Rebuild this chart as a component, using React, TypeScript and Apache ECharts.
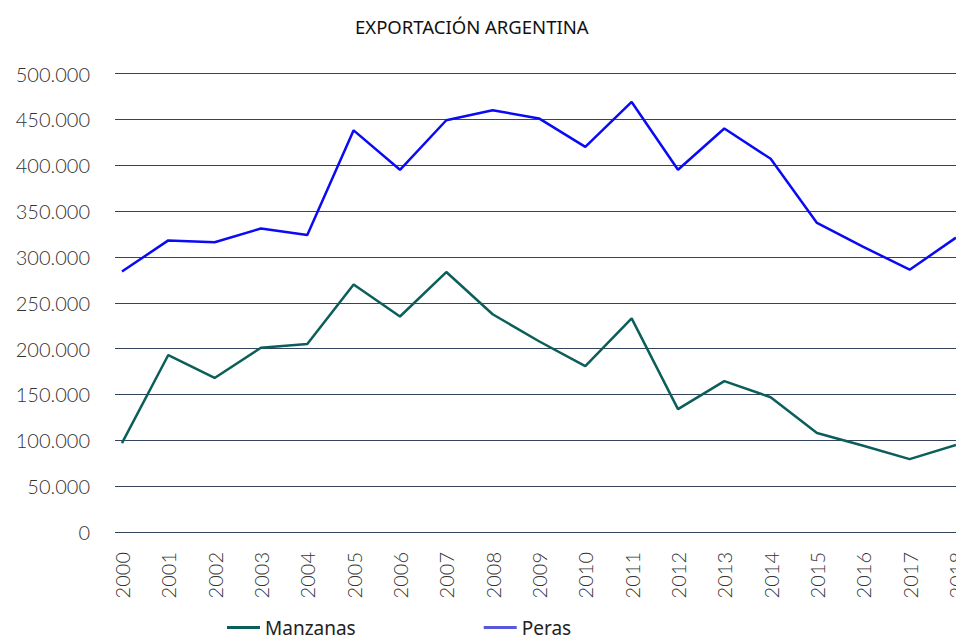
import React, { useEffect, useRef } from "react";
import * as echarts from "echarts";

const years = ["2000","2001","2002","2003","2004","2005","2006","2007","2008","2009","2010","2011","2012","2013","2014","2015","2016","2017","2018"];
const manzanas = [97000,193000,168000,201000,205000,270000,235000,283500,237500,208000,181000,233000,134000,164500,147000,108000,94000,79500,95000];
const peras = [284000,318000,316000,331000,324000,438000,395000,449000,460000,451000,420000,469000,395000,440000,407000,337000,311000,286000,321000];
const yTicks = [0,50000,100000,150000,200000,250000,300000,350000,400000,450000,500000];

const fmt = (v: number) => String(v).replace(/\B(?=(\d{3})+(?!\d))/g, ".");

export default function App() {
  const ref = useRef<HTMLDivElement>(null);
  useEffect(() => {
    if (!ref.current) return;
    const chart = echarts.init(ref.current, undefined, { renderer: "svg" });
    chart.setOption({
      animation: false,
      backgroundColor: "#ffffff",
      title: {
        text: "EXPORTACIÓN ARGENTINA",
        left: 350,
        top: 12,
        textStyle: { fontFamily: "Noto Sans", fontSize: 18.5, fontWeight: "normal", color: "#111" },
      },
      legend: {
        left: 222,
        top: 613,
        itemGap: 128,
        itemWidth: 33,
        itemHeight: 3,
        icon: "rect",
        textStyle: { fontFamily: "Noto Sans", fontSize: 19, color: "#222" },
        data: [
          { name: "Manzanas", itemStyle: { color: "#0b5e5a" } },
          { name: "Peras", itemStyle: { color: "#5858dc" } },
        ],
      },
      grid: { left: 115, right: 0, top: 73.5, bottom: 635 - 532, outerBoundsMode: "none", containLabel: false },
      xAxis: {
        type: "value",
        min: -0.15,
        max: 18,
        splitLine: { show: false },
        axisLine: { show: false },
        axisTick: { show: false },
        axisLabel: {
          customValues: years.map((_, i) => i),
          formatter: (v: number) => years[Math.round(v)] ?? "",
          rotate: 90,
          margin: 20,
          fontFamily: "Lato",
          fontWeight: 300,
          fontSize: 20,
          color: "#333",
        },
      },
      yAxis: {
        type: "value",
        min: 0,
        max: 500000,
        interval: 50000,
        axisLine: { show: false },
        axisTick: { show: false },
        splitLine: { lineStyle: { color: "#34445e", width: 1 } },
        axisLabel: {
          customValues: yTicks,
          formatter: (v: number) => fmt(v),
          margin: 25,
          fontFamily: "Lato",
          fontWeight: 300,
          fontSize: 20,
          color: "#333",
        },
      },
      series: [
        {
          name: "Manzanas",
          type: "line",
          symbol: "none",
          data: manzanas.map((v, i) => [i, v]),
          lineStyle: { color: "#0b5e5a", width: 2.5 },
          itemStyle: { color: "#0b5e5a" },
        },
        {
          name: "Peras",
          type: "line",
          symbol: "none",
          data: peras.map((v, i) => [i, v]),
          lineStyle: { color: "#0a0af5", width: 2.5 },
          itemStyle: { color: "#0a0af5" },
        },
      ],
    });
    return () => chart.dispose();
  }, []);
  return <div ref={ref} style={{ position: "absolute", left: 0, top: 0, width: 956, height: 635 }} />;
}
